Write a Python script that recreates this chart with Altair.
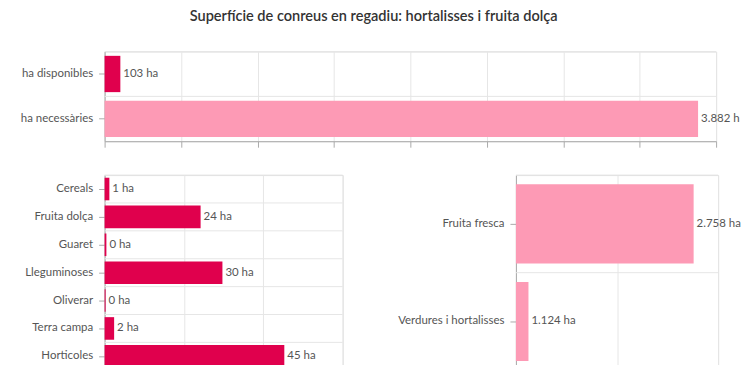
import altair as alt
import pandas as pd

TITLE = "Superfície de conreus en regadiu: hortalisses i fruita dolça"

DARK = "#e0004d"
LIGHT = "#fd9ab5"

top_cats = ["ha disponibles", "ha necessàries"]
top_vals = [103, 3882]
top_colors = [DARK, LIGHT]

bl_cats = ["Cereals", "Fruita dolça", "Guaret", "Lleguminoses", "Oliverar", "Terra campa", "Horticoles"]
bl_vals = [1.2, 24.2, 0.45, 29.7, 0.25, 2.4, 45.3]
bl_colors = [DARK] * len(bl_cats)

br_cats = ["Fruita fresca", "Verdures i hortalisses"]
br_vals = [2758, 1124]
br_colors = [LIGHT, LIGHT]

top_ticks = [0, 500, 1000, 1500, 2000, 2500, 3000, 3500, 4000]
bl_ticks = [0, 20, 40, 60]
br_ticks = [1000, 2000, 3000]


def fmt(v):
    return f"{round(v):,}".replace(",", ".") + " ha"


def make_df(cats, vals, colors):
    return pd.DataFrame({
        "cat": cats,
        "val": vals,
        "color": colors,
        "label": [fmt(v) for v in vals],
    })


FONT = "Lato"
TXT = "#555555"
GRID = "#e6e6e6"
AX = "#aaaaaa"


def panel(df, w, h, ticks, zero=True, limit=0):
    dom = [ticks[0], ticks[-1]]
    yaxis = alt.Axis(title=None, grid=False, domainColor=AX, tickColor=AX,
                     tickSize=6, labelPadding=6, labelColor=TXT, labelFont=FONT,
                     labelFontSize=11.5)
    yscale = alt.Scale(paddingInner=0, paddingOuter=0)
    xaxis = alt.Axis(title=None, labels=False, values=ticks, grid=True,
                     gridColor=GRID, tickSize=6, tickColor=AX, domainColor=AX)
    xscale = alt.Scale(domain=dom, zero=zero, nice=False)
    y = alt.Y("cat:N", sort=None, axis=yaxis, scale=yscale)
    x = alt.X("val:Q", axis=xaxis, scale=xscale)
    rules = alt.Chart(df).mark_rule(color=GRID, strokeWidth=1).encode(
        y=alt.Y("cat:N", sort=None, axis=yaxis, scale=yscale, bandPosition=0),
        x=alt.datum(dom[0]),
        x2=alt.datum(dom[1]),
    )
    bars = alt.Chart(df).mark_bar(height={"band": 0.81}).encode(
        y=y, x=x, x2=alt.datum(dom[0]), color=alt.Color("color:N", scale=None)
    )
    text_kw = dict(align="left", baseline="middle", dx=3, color=TXT,
                   font=FONT, fontSize=11.5)
    if limit:
        text_kw.update(limit=limit, ellipsis="\u200b")
    text = alt.Chart(df).mark_text(**text_kw).encode(
        y=y, x=x, text="label:N"
    )
    return alt.layer(rules, bars, text).properties(width=w, height=h)


top = panel(make_df(top_cats, top_vals, top_colors), 614, 90, top_ticks, limit=40)
bl = panel(make_df(bl_cats, bl_vals, bl_colors), 239, 196, bl_ticks)
br = panel(make_df(br_cats, br_vals, br_colors), 203, 196, br_ticks, zero=False)

bottom = alt.hconcat(bl, br, spacing=174, bounds="flush")

chart = alt.vconcat(top, bottom, spacing=26).properties(
    title=alt.Title(TITLE, font=FONT, fontSize=14.6, fontWeight=600,
                    color="#333333", anchor="middle", offset=27, dx=-7),
    padding={"left": 11, "right": 0, "top": 0, "bottom": 0},
).configure_view(stroke=None).configure(background="white")

chart.save("out.html", embed_options={"renderer": "svg", "actions": False})
